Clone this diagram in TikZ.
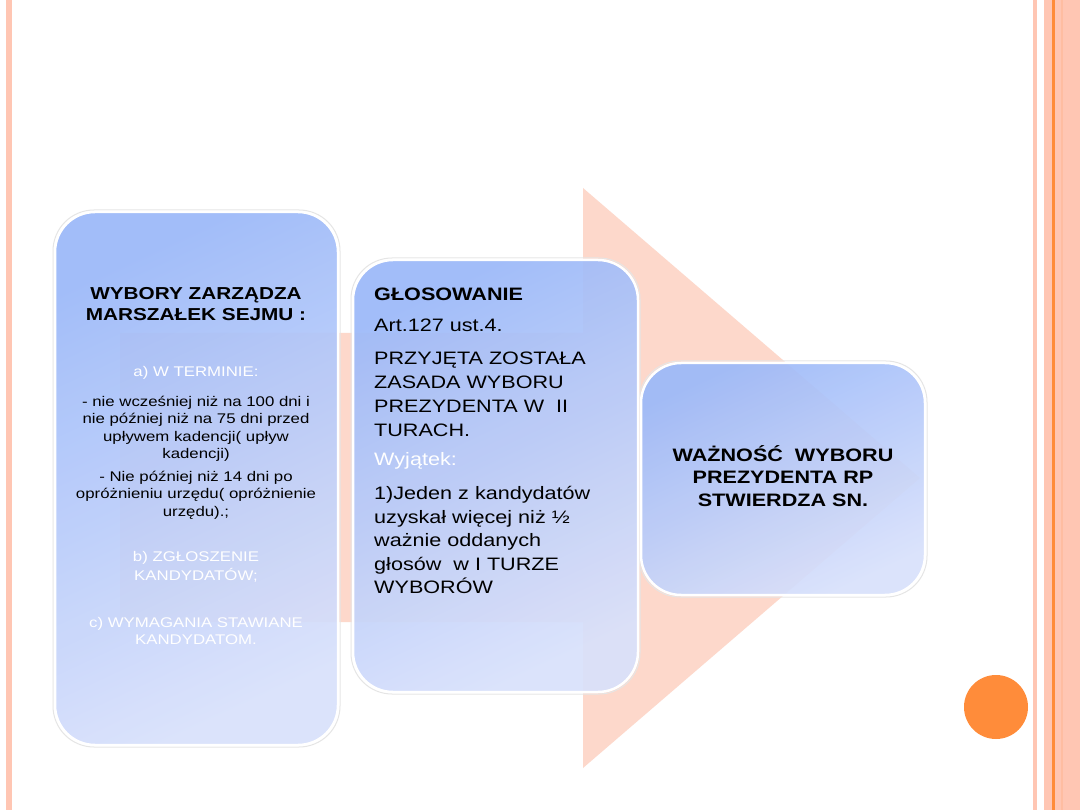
\documentclass[tikz,border=0pt]{standalone}
\usepackage{fontspec}
\setmainfont{Liberation Sans}[FakeStretch=1.2]
\definecolor{salmon}{HTML}{FDD8CB}
\definecolor{stripe}{HTML}{FFC6B3}
\definecolor{orangeln}{HTML}{FF8C3A}
\definecolor{boxtop}{HTML}{9CB9F9}
\definecolor{boxmid}{HTML}{BCCBF7}
\definecolor{boxbot}{HTML}{D9E1FB}
\begin{document}
\begin{tikzpicture}[x=1pt,y=-1pt,
  panel/.style={rectangle, rounded corners=40pt, draw=white, line width=2.5pt,
    top color=boxtop, middle color=boxmid, bottom color=boxbot, shading angle=25, fill opacity=0.93, inner sep=0pt},
  shadowbox/.style={rectangle, rounded corners=41pt, draw=black!10, line width=1pt, inner sep=0pt},
  txt/.style={text=black, inner sep=0pt},
  wtxt/.style={text=white, inner sep=0pt}
]
\useasboundingbox (0,0) rectangle (1080,810);
\fill[white] (0,0) rectangle (1080,810);
% border stripes
\fill[stripe] (6,0) rectangle (11.5,810);
\fill[stripe] (1033,0) rectangle (1037,810);
\fill[stripe] (1044,0) rectangle (1080,810);
\fill[orangeln] (1052,0) rectangle (1054.5,810);
\fill[stripe!85!orangeln] (1061,0) rectangle (1063,810);
% arrow
\fill[salmon] (120,333) -- (583,333) -- (583,188) -- (920,478) -- (583,768) -- (583,622) -- (120,622) -- cycle;
% shadows
\node[shadowbox, minimum width=287pt, minimum height=537pt] (s1) at (196.5,478.5) {};
\node[shadowbox, minimum width=289pt, minimum height=436pt] (s2) at (495.5,476) {};
\node[shadowbox, minimum width=288pt, minimum height=236pt] (s3) at (783,479) {};
% boxes
\node[panel, minimum width=283pt, minimum height=533pt] (left) at (196.5,478.5) {};
\node[panel, minimum width=285pt, minimum height=432pt] (mid) at (495.5,476) {};
\node[panel, minimum width=284pt, minimum height=232pt] (right) at (783,479) {};
% left texts
\node[txt, align=center, font=\bfseries\fontsize{17.3}{20.5}\selectfont] (l1) at (196,304) {WYBORY ZARZĄDZA\\MARSZAŁEK SEJMU :};
\node[wtxt, font=\fontsize{14}{17.5}\selectfont] (l2) at (196,373) {a) W TERMINIE:};
\node[txt, align=center, font=\fontsize{14}{17.5}\selectfont] (l3) at (196,429) {- nie wcześniej niż na 100 dni i\\nie później niż na 75 dni przed\\upływem kadencji( upływ\\kadencji)};
\node[txt, align=center, font=\fontsize{14}{17.5}\selectfont] (l4) at (196,495) {- Nie później niż 14 dni po\\opróżnieniu urzędu( opróżnienie\\urzędu).;};
\node[wtxt, align=center, font=\fontsize{14}{18.5}\selectfont] (l5) at (196,567) {b) ZGŁOSZENIE\\KANDYDATÓW;};
\node[wtxt, align=center, font=\fontsize{14}{17.5}\selectfont] (l6) at (196,631) {c) WYMAGANIA STAWIANE\\KANDYDATOM.};
% middle texts
\node[txt, anchor=west, font=\bfseries\fontsize{18}{23.5}\selectfont] (m1) at (374,294) {GŁOSOWANIE};
\node[txt, anchor=west, font=\fontsize{18}{23.5}\selectfont] (m2) at (374,325) {Art.127 ust.4.};
\node[txt, anchor=west, align=left, font=\fontsize{18}{24}\selectfont] (m3) at (374,394) {PRZYJĘTA ZOSTAŁA\\ZASADA WYBORU\\PREZYDENTA W\ \ II\\TURACH.};
\node[wtxt, anchor=west, font=\fontsize{18}{23.5}\selectfont] (m4) at (374,461) {Wyjątek:};
\node[txt, anchor=west, align=left, font=\fontsize{18}{23.5}\selectfont] (m5) at (374,540) {1)Jeden z kandydatów\\uzyskał więcej niż ½\\ważnie oddanych\\głosów\ \ w I TURZE\\WYBORÓW};
% right text
\node[txt, align=center, font=\bfseries\fontsize{18}{22.5}\selectfont] (r1) at (783,476) {WAŻNOŚĆ\ \ WYBORU\\PREZYDENTA RP\\STWIERDZA SN.};
% orange dot
\fill[orangeln] (996,707) circle (32);
\end{tikzpicture}
\end{document}
